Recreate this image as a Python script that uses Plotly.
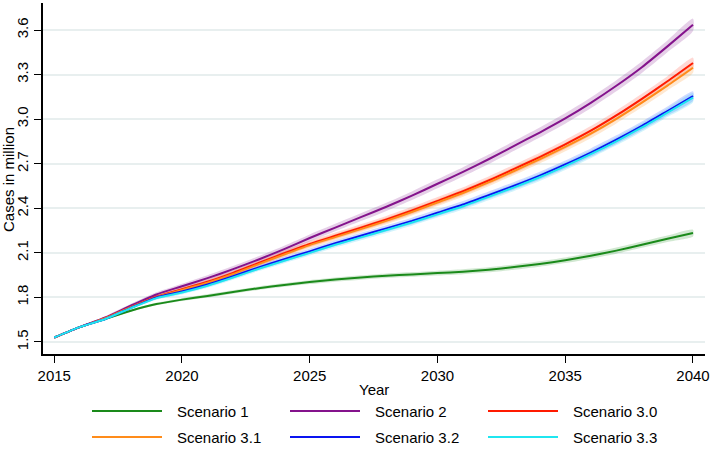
import plotly.graph_objects as go

years = list(range(2015, 2041))

scenario_names = ["Scenario 1", "Scenario 2", "Scenario 3.0",
                  "Scenario 3.1", "Scenario 3.2", "Scenario 3.3"]

s1 = [1.53, 1.60, 1.655, 1.71, 1.755, 1.785, 1.81, 1.836, 1.862, 1.884, 1.903, 1.92, 1.934,
      1.946, 1.955, 1.964, 1.973, 1.986, 2.004, 2.025, 2.05, 2.08, 2.115, 2.155, 2.195, 2.233]
s2 = [1.53, 1.60, 1.665, 1.745, 1.82, 1.875, 1.93, 1.99, 2.055, 2.125, 2.20, 2.27, 2.34,
      2.41, 2.485, 2.565, 2.645, 2.73, 2.82, 2.91, 3.005, 3.11, 3.225, 3.35, 3.49, 3.635]
s30 = [1.53, 1.60, 1.66, 1.735, 1.805, 1.855, 1.905, 1.965, 2.032, 2.097, 2.16, 2.215, 2.27,
       2.325, 2.385, 2.45, 2.515, 2.587, 2.665, 2.745, 2.83, 2.922, 3.025, 3.137, 3.255, 3.378]
s31 = [1.53, 1.60, 1.66, 1.735, 1.802, 1.85, 1.899, 1.958, 2.024, 2.089, 2.152, 2.206, 2.26,
       2.315, 2.375, 2.439, 2.503, 2.574, 2.651, 2.73, 2.813, 2.902, 3.002, 3.111, 3.226, 3.346]
s32 = [1.53, 1.60, 1.655, 1.73, 1.80, 1.84, 1.887, 1.943, 2.002, 2.057, 2.11, 2.165, 2.215,
       2.265, 2.315, 2.37, 2.425, 2.488, 2.552, 2.62, 2.695, 2.775, 2.862, 2.955, 3.055, 3.156]
s33 = [1.53, 1.60, 1.655, 1.728, 1.795, 1.833, 1.879, 1.934, 1.993, 2.047, 2.10, 2.154, 2.204,
       2.254, 2.304, 2.359, 2.414, 2.477, 2.541, 2.609, 2.684, 2.764, 2.851, 2.944, 3.044, 3.145]

# approximate half-width of the uncertainty band (million cases) per year
band_halfwidth = [0.0, 0.004, 0.008, 0.011, 0.014, 0.016, 0.018, 0.019, 0.020, 0.021, 0.022,
                  0.023, 0.024, 0.025, 0.026, 0.027, 0.028, 0.029, 0.030, 0.031, 0.032,
                  0.033, 0.034, 0.035, 0.036, 0.038]
band_scale = [0.6, 1.1, 0.95, 0.9, 0.85, 0.8]

series = [s1, s2, s30, s31, s32, s33]
colors = ["#1a8a1a", "#84138c", "#ff1a00", "#ff8c1a", "#0a14f0", "#1fe6f0"]
band_rgba = ["rgba(26,138,26,0.2)", "rgba(132,19,140,0.2)", "rgba(255,60,40,0.2)",
             "rgba(255,140,26,0.2)", "rgba(40,90,255,0.22)", "rgba(31,200,240,0.2)"]

y_ticks = [1.5, 1.8, 2.1, 2.4, 2.7, 3.0, 3.3, 3.6]
x_ticks = [2015, 2020, 2025, 2030, 2035, 2040]

FONT = "Liberation Sans, Arial, sans-serif"

fig = go.Figure()

for vals, sc, bc in zip(series, band_scale, band_rgba):
    upper = [v + h * sc for v, h in zip(vals, band_halfwidth)]
    lower = [v - h * sc for v, h in zip(vals, band_halfwidth)]
    fig.add_trace(go.Scatter(x=years + years[::-1], y=upper + lower[::-1], fill="toself",
                             fillcolor=bc, line=dict(width=0, shape="spline", smoothing=0.6),
                             hoverinfo="skip", showlegend=False, mode="lines"))

for name, vals, col in zip(scenario_names, series, colors):
    fig.add_trace(go.Scatter(x=years, y=vals, mode="lines", name=name,
                             line=dict(color=col, width=2, shape="spline", smoothing=0.6),
                             showlegend=False))

W, H = 712, 458
ml, mr, mt, mb = 43, 7, 3, 104
pw, ph = W - ml - mr, H - mt - mb


def px_x(px):
    return (px - ml) / pw


def px_y(py):
    return (H - mb - py) / ph


shapes = []
annotations = []
legend_cols = [92, 290, 488]
legend_rows = [411, 437]
for i, (name, col) in enumerate(zip(scenario_names, colors)):
    cx = legend_cols[i % 3]
    ry = legend_rows[i // 3]
    shapes.append(dict(type="line", xref="paper", yref="paper",
                       x0=px_x(cx), x1=px_x(cx + 70), y0=px_y(ry), y1=px_y(ry),
                       line=dict(color=col, width=2)))
    annotations.append(dict(text=name, xref="paper", yref="paper", x=px_x(cx + 83),
                            y=px_y(ry), xanchor="left", yanchor="middle", showarrow=False,
                            font=dict(family=FONT, size=15, color="black")))

annotations.append(dict(text="Year", xref="paper", yref="paper", x=px_x(374), y=px_y(389),
                        xanchor="center", yanchor="middle", showarrow=False,
                        font=dict(family=FONT, size=15, color="black")))
annotations.append(dict(text="Cases in million", xref="paper", yref="paper", x=px_x(8),
                        y=px_y(180), xanchor="center", yanchor="middle", showarrow=False,
                        textangle=-90, font=dict(family=FONT, size=15, color="black")))

fig.update_layout(
    width=W, height=H,
    margin=dict(l=ml, r=mr, t=mt, b=mb),
    paper_bgcolor="white", plot_bgcolor="white",
    font=dict(family=FONT, size=15, color="black"),
    shapes=shapes, annotations=annotations,
    showlegend=False,
)
fig.update_xaxes(range=[2014.56, 2040.47], tickvals=x_ticks, ticks="outside", ticklen=7,
                 tickcolor="black", showline=True, linecolor="black", linewidth=1.5,
                 showgrid=False, zeroline=False, automargin=False,
                 tickfont=dict(family=FONT, size=15))
fig.update_yaxes(range=[1.419, 3.782], tickvals=y_ticks, ticktext=[f"{v:.1f}" for v in y_ticks],
                 ticks="outside", ticklen=7, tickcolor="black", showline=True,
                 linecolor="black", linewidth=1.5, showgrid=True, gridcolor="#e8efef",
                 gridwidth=1.5, zeroline=False, tickangle=-90, automargin=False,
                 tickfont=dict(family=FONT, size=15))

fig.write_html("out.html", config={"displayModeBar": False},
               post_script="document.body.style.margin='0';document.body.style.padding='0';")
